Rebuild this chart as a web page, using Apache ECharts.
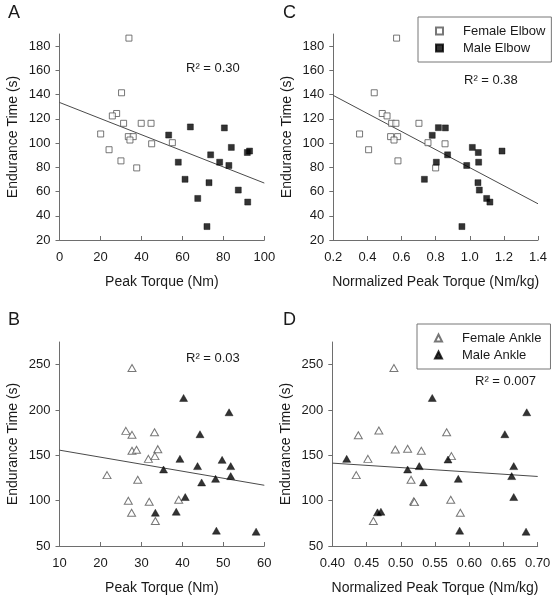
<!DOCTYPE html>
<html><head><meta charset="utf-8">
<script src="https://cdn.jsdelivr.net/npm/echarts@6/dist/echarts.min.js"></script>
<style>html,body{margin:0;padding:0;background:#fff}#c{width:558px;height:599px}</style>
</head><body><div id="c"></div>
<script>
// ---------- Panel A: Elbow, peak torque (Nm) ----------
const aFemaleX = [33.9, 30.3, 27.9, 25.8, 31.3, 39.9, 44.7, 20.1, 33.6, 36.0, 34.4, 45.0, 55.1, 24.2, 30.0, 37.7];
const aFemaleY = [186.6, 141.5, 124.4, 122.4, 116.3, 116.3, 116.3, 107.5, 105.3, 105.3, 102.5, 99.4, 100.3, 94.5, 85.3, 79.5];
const aMaleX = [53.3, 63.9, 80.5, 83.9, 73.8, 91.7, 92.8, 58.0, 78.2, 82.7, 61.3, 73.0, 87.3, 67.5, 91.9, 72.0];
const aMaleY = [106.6, 113.3, 112.5, 96.4, 90.3, 92.2, 93.4, 84.2, 84.2, 81.5, 70.1, 67.3, 61.2, 54.3, 51.3, 31.1];
const aTrendX = [0, 100];
const aTrendY = [133.5, 67.0];

// ---------- Panel C: Elbow, normalized peak torque (Nm/kg) ----------
const cFemaleX = [0.571, 0.440, 0.487, 0.515, 0.542, 0.567, 0.702, 0.354, 0.536, 0.577, 0.556, 0.755, 0.855, 0.407, 0.579, 0.800];
const cFemaleY = [186.6, 141.5, 124.4, 122.4, 116.3, 116.3, 116.3, 107.5, 105.3, 105.3, 102.5, 100.3, 99.4, 94.5, 85.3, 79.5];
const cMaleX = [0.816, 0.857, 0.780, 1.015, 1.050, 1.189, 0.870, 1.052, 0.804, 0.982, 0.734, 1.048, 1.056, 1.099, 1.118, 0.954];
const cMaleY = [112.7, 112.5, 106.4, 96.4, 92.2, 93.4, 90.3, 84.2, 84.2, 81.5, 70.1, 67.3, 61.2, 54.3, 51.3, 31.1];
const cTrendX = [0.2, 1.4];
const cTrendY = [139.3, 49.9];

// ---------- Panel B: Ankle, peak torque (Nm) ----------
const bFemaleX = [27.7, 26.2, 27.7, 33.2, 27.7, 28.8, 34.0, 31.7, 33.3, 21.6, 29.1, 26.8, 31.9, 39.1, 27.6, 33.4];
const bFemaleY = [246.3, 177.0, 172.6, 175.5, 155.0, 156.1, 156.8, 146.1, 149.1, 128.2, 123.0, 99.9, 98.8, 101.0, 86.7, 77.5];
const bMaleX = [40.3, 51.4, 44.3, 39.4, 49.7, 43.7, 51.8, 35.4, 51.8, 48.1, 44.7, 40.7, 33.4, 38.5, 48.3, 58.0];
const bMaleY = [213.3, 197.5, 173.3, 146.1, 145.0, 138.1, 138.1, 134.4, 127.1, 124.1, 120.1, 104.0, 86.7, 87.8, 66.9, 65.8];
const bTrendX = [10, 60];
const bTrendY = [155.7, 117.0];

// ---------- Panel D: Ankle, normalized peak torque (Nm/kg) ----------
const dFemaleX = [0.490, 0.438, 0.468, 0.567, 0.492, 0.510, 0.530, 0.574, 0.452, 0.435, 0.515, 0.519, 0.520, 0.573, 0.587, 0.460];
const dFemaleY = [246.3, 172.2, 177.3, 175.5, 156.4, 157.2, 155.0, 149.1, 146.1, 128.2, 123.0, 99.2, 98.4, 101.0, 86.7, 77.5];
const dMaleX = [0.546, 0.684, 0.652, 0.421, 0.569, 0.665, 0.527, 0.510, 0.662, 0.584, 0.533, 0.665, 0.466, 0.471, 0.586, 0.683];
const dMaleY = [213.3, 197.5, 173.3, 146.1, 145.4, 138.1, 138.1, 134.4, 127.1, 124.1, 120.1, 104.0, 87.1, 87.8, 66.9, 65.8];
const dTrendX = [0.40, 0.70];
const dTrendY = [141.4, 126.7];

// ---------- Tick values / labels ----------
const elbowTimeTicks = [20, 40, 60, 80, 100, 120, 140, 160, 180];
const ankleTimeTicks = [50, 100, 150, 200, 250];
const rSquaredLabels = ['R\u00B2 = 0.30', 'R\u00B2 = 0.38', 'R\u00B2 = 0.03', 'R\u00B2 = 0.007'];
const panelLetters = ['A', 'C', 'B', 'D'];
const yTitle = 'Endurance Time (s)';
const xTitles = ['Peak Torque (Nm)', 'Normalized Peak Torque (Nm/kg)', 'Peak Torque (Nm)', 'Normalized Peak Torque (Nm/kg)'];
const seriesNames = ['Female Elbow', 'Male Elbow', 'Female Ankle', 'Male Ankle'];

const FONT = '"Liberation Sans", Arial, sans-serif';
const TXT = '#1a1a1a';
const AX = '#6e6e6e';

function pairs(xs, ys) { return xs.map((x, i) => [x, ys[i]]); }

const chart = echarts.init(document.getElementById('c'), null, { renderer: 'canvas' });

const grids = [
  { left: 59.5, top: 34, width: 204.8, height: 206 },
  { left: 333.3, top: 34, width: 204.7, height: 206 },
  { left: 59.5, top: 342, width: 204.8, height: 204 },
  { left: 332.3, top: 342, width: 205.4, height: 204 }
];

function xAxisCfg(idx, min, max, interval, dec) {
  return {
    type: 'value', gridIndex: idx, min: min, max: max, interval: interval,
    name: xTitles[idx], nameLocation: 'middle', nameGap: 35,
    nameTextStyle: { fontFamily: FONT, fontSize: 14, color: TXT },
    axisLine: { show: true, onZero: false, lineStyle: { color: AX, width: 1 } },
    axisTick: { show: true, inside: true, length: 4, lineStyle: { color: AX } },
    axisLabel: { margin: 11, fontFamily: FONT, fontSize: 13, color: TXT,
      formatter: v => Number(v).toFixed(dec) },
    splitLine: { show: false }
  };
}
function yAxisCfg(idx, min, max, ticks) {
  return {
    type: 'value', gridIndex: idx, min: min, max: max,
    name: yTitle, nameLocation: 'middle', nameGap: 39,
    nameTextStyle: { fontFamily: FONT, fontSize: 14, color: TXT },
    axisLine: { show: true, onZero: false, lineStyle: { color: AX, width: 1 } },
    axisTick: { show: true, inside: false, length: 4, lineStyle: { color: AX }, customValues: ticks },
    axisLabel: { margin: 9, fontFamily: FONT, fontSize: 13, color: TXT, customValues: ticks },
    splitLine: { show: false }
  };
}

function scatter(name, idx, data, filled, symbol, size) {
  return {
    type: 'scatter', name: name, xAxisIndex: idx, yAxisIndex: idx, data: data,
    symbol: symbol, symbolSize: size, silent: true,
    itemStyle: filled ? { color: '#000', borderColor: '#000', borderWidth: 0.5 }
                      : { color: '#fff', borderColor: '#555', borderWidth: 1 },
    z: 3
  };
}
function trend(idx, xs, ys) {
  return {
    type: 'line', xAxisIndex: idx, yAxisIndex: idx, data: pairs(xs, ys),
    showSymbol: false, silent: true, lineStyle: { color: '#4a4a4a', width: 1 }, z: 2
  };
}

const rPos = [[186, 62], [464, 74], [186, 352], [475, 375]];
const letterPos = [[8, 4], [283, 4], [8, 311], [283, 311]];
const graphics = [];
for (let i = 0; i < 4; i++) {
  graphics.push({ type: 'text', left: rPos[i][0], top: rPos[i][1],
    style: { text: rSquaredLabels[i], font: '13px ' + FONT, fill: TXT } });
  graphics.push({ type: 'text', left: letterPos[i][0], top: letterPos[i][1],
    style: { text: panelLetters[i], font: '18px ' + FONT, fill: TXT } });
}

const legendBase = {
  orient: 'vertical', itemWidth: 7, itemHeight: 7, itemGap: 3,
  borderColor: '#777', borderWidth: 1, backgroundColor: '#fff',
  textStyle: { fontFamily: FONT, fontSize: 13, color: TXT, lineHeight: 14, padding: [0, 0, 0, 15] },
  selectedMode: false
};

chart.setOption({
  animation: false,
  backgroundColor: '#fff',
  grid: grids,
  xAxis: [
    xAxisCfg(0, 0, 100, 20, 0),
    xAxisCfg(1, 0.2, 1.4, 0.2, 1),
    xAxisCfg(2, 10, 60, 10, 0),
    xAxisCfg(3, 0.40, 0.70, 0.05, 2)
  ],
  yAxis: [
    yAxisCfg(0, 20, 190, elbowTimeTicks),
    yAxisCfg(1, 20, 190, elbowTimeTicks),
    yAxisCfg(2, 50, 275, ankleTimeTicks),
    yAxisCfg(3, 50, 275, ankleTimeTicks)
  ],
  legend: [
    Object.assign({}, legendBase, { data: [seriesNames[0], seriesNames[1]], left: 418, top: 17, padding: [7, 6, 7, 17] }),
    Object.assign({}, legendBase, { data: [seriesNames[2], seriesNames[3]], left: 417, top: 324, padding: [7, 9, 7, 17] })
  ],
  graphic: graphics,
  series: [
    trend(0, aTrendX, aTrendY),
    scatter(seriesNames[0], 0, pairs(aFemaleX, aFemaleY), false, 'rect', 6),
    scatter(seriesNames[1], 0, pairs(aMaleX, aMaleY), true, 'rect', 6),
    trend(1, cTrendX, cTrendY),
    scatter(seriesNames[0], 1, pairs(cFemaleX, cFemaleY), false, 'rect', 6),
    scatter(seriesNames[1], 1, pairs(cMaleX, cMaleY), true, 'rect', 6),
    trend(2, bTrendX, bTrendY),
    scatter(seriesNames[2], 2, pairs(bFemaleX, bFemaleY), false, 'triangle', [8, 7]),
    scatter(seriesNames[3], 2, pairs(bMaleX, bMaleY), true, 'triangle', [8, 7]),
    trend(3, dTrendX, dTrendY),
    scatter(seriesNames[2], 3, pairs(dFemaleX, dFemaleY), false, 'triangle', [8, 7]),
    scatter(seriesNames[3], 3, pairs(dMaleX, dMaleY), true, 'triangle', [8, 7])
  ]
});
</script>
</body></html>
